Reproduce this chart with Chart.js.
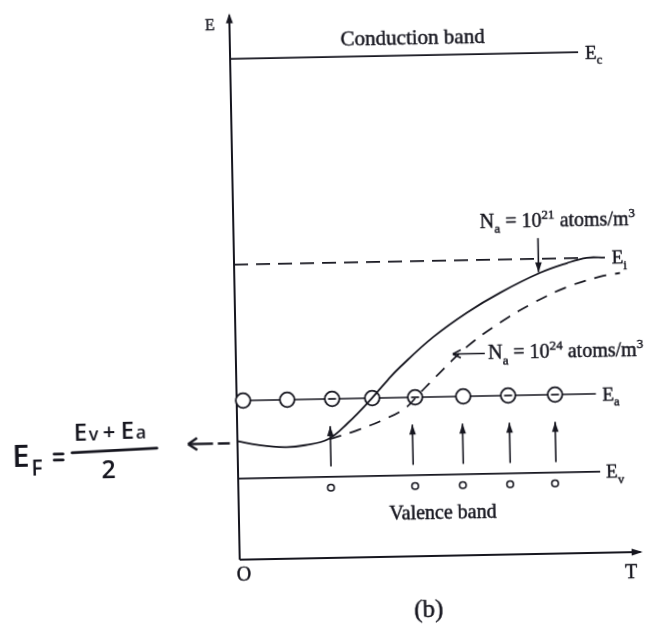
<!DOCTYPE html>
<html><head><meta charset="utf-8">
<script src="https://cdn.jsdelivr.net/npm/chart.js@4.4.0/dist/chart.umd.min.js"></script>
<style>
html,body{margin:0;padding:0;background:#fff;overflow:hidden;width:650px;height:626px;}
#wrap{width:650px;height:626px;transform:rotate(-1.1deg);transform-origin:325px 313px;}
canvas{display:block;}
</style></head><body>
<div id="wrap"><canvas id="c" width="650" height="626"></canvas></div>
<script>
// ---------- data (T: temperature, E: energy, arbitrary units) ----------
const axisT = [0, 10];
const axisE = [0, 10];

const levelSub   = ['c', 'i', 'a', 'v'];          // E_c, E_i, E_a, E_v
const levelE     = [9.20, 5.42, 2.92, 1.49];
const levelTEnd  = [8.68, 8.60, 8.96, 9.03];
const levelDash  = [false, true, false, false];
const levelLabelT = [8.85, 9.42, 9.12, 9.18];

// Fermi level, N_a = 10^21 atoms/m^3 (solid)
const curve21T = [0, 0.51, 1.18, 1.69, 2.26, 2.76, 3.35, 3.78, 4.09, 4.93, 5.79, 6.62, 7.62, 8.30, 8.80, 9.25];
const curve21E = [2.18, 2.10, 2.05, 2.08, 2.18, 2.47, 2.90, 3.25, 3.48, 4.02, 4.46, 4.81, 5.16, 5.33, 5.42, 5.42];

// Fermi level, N_a = 10^24 atoms/m^3 (dashed)
const curve24T = [2.30, 3.01, 3.62, 4.19, 4.55, 4.95, 5.77, 6.60, 7.44, 8.29, 9.12, 9.62];
const curve24E = [2.18, 2.34, 2.51, 2.72, 2.98, 3.27, 3.83, 4.26, 4.61, 4.89, 5.07, 5.13];

// acceptor atoms on E_a (true = ionized, shown with a minus sign)
const acceptorT = [0.16, 1.26, 2.38, 3.38, 4.45, 5.65, 6.77, 7.94];
const acceptorIonized = [false, false, true, false, true, false, true, true];

// holes left in the valence band
const holeT = [2.31, 4.41, 5.60, 6.78, 7.90];
const holeE = 1.29;

// electron transitions valence band -> acceptor level
const jumpT = [2.32, 4.37, 5.62, 6.79, 7.93];
const jumpFromE = 1.68;
const jumpToE = 2.42;

// E_F at T = 0
const efE = 2.14;

// ---------- styling ----------
const ink = '#16161f';
const serif = '"Liberation Serif", "Times New Roman", serif';
const hand = '"Open Sans", "DejaVu Sans", sans-serif';

function pts(T, E) { return T.map((t, i) => ({ x: t, y: Array.isArray(E) ? E[i] : E })); }

const datasets = [];
// axes
datasets.push({ data: [{x: axisT[0], y: axisE[0]}, {x: axisT[0], y: axisE[1]}], borderWidth: 2, order: 5 });
datasets.push({ data: [{x: axisT[0], y: axisE[0]}, {x: axisT[1], y: axisE[0]}], borderWidth: 2, order: 5 });
// energy levels
levelE.forEach((e, i) => {
  datasets.push({ data: [{x: axisT[0], y: e}, {x: levelTEnd[i], y: e}], borderWidth: 1.7,
    borderDash: levelDash[i] ? [14, 8] : [], order: 5 });
});
// curves
datasets.push({ data: pts(curve21T, curve21E), borderWidth: 1.8, tension: 0.4, order: 0 });
datasets.push({ data: pts(curve24T, curve24E), borderWidth: 1.7, tension: 0.4, borderDash: [12, 9], order: 0 });
// acceptors
const accAll = pts(acceptorT, levelE[2]);
datasets.push({ data: accAll, showLine: false, pointRadius: 7.3, pointStyle: 'circle',
  pointBackgroundColor: '#fff', pointBorderColor: ink, pointBorderWidth: 1.8, order: 2 });
datasets.push({ data: accAll.filter((p, i) => acceptorIonized[i]), showLine: false, pointRadius: 4,
  pointStyle: 'line', pointBorderColor: ink, pointBorderWidth: 1.7, order: 1 });
// holes
datasets.push({ data: pts(holeT, holeE), showLine: false, pointRadius: 3.3, pointStyle: 'circle',
  pointBackgroundColor: '#fff', pointBorderColor: ink, pointBorderWidth: 1.6, order: 2 });

datasets.forEach(d => {
  d.borderColor = d.borderColor || ink;
  if (d.pointRadius === undefined) d.pointRadius = 0;
  if (d.showLine === undefined) d.showLine = true;
  d.clip = false;
  d.fill = false;
});

// frame: T 0..10 spans px 235..636, E 0..10 spans px 558..13.5 (canvas 650x626)
const uT = 40.1, uE = 54.45;
const xMin = -235 / uT, xMax = (650 - 235) / uT;
const yMin = -(626 - 558) / uE, yMax = 558 / uE;

function head(ctx, x, y, ang, len, hw, open) {
  ctx.save();
  ctx.translate(x, y); ctx.rotate(ang);
  ctx.beginPath();
  ctx.moveTo(0, 0); ctx.lineTo(-len, -hw);
  if (open) { ctx.moveTo(0, 0); ctx.lineTo(-len, hw); ctx.stroke(); }
  else { ctx.lineTo(-len, hw); ctx.closePath(); ctx.fill(); }
  ctx.restore();
}
function arrow(ctx, x1, y1, x2, y2, len, hw, open) {
  ctx.beginPath(); ctx.moveTo(x1, y1); ctx.lineTo(x2, y2); ctx.stroke();
  head(ctx, x2, y2, Math.atan2(y2 - y1, x2 - x1), len, hw, open);
}
function rich(ctx, x, y, parts, size, align, family) {
  family = family || serif;
  const fs = k => k === 'n' ? size : size * 0.66;
  let w = 0;
  parts.forEach(([t, k]) => { ctx.font = fs(k) + 'px ' + family; w += ctx.measureText(t).width; });
  let cx = align === 'center' ? x - w / 2 : (align === 'right' ? x - w : x);
  ctx.textAlign = 'left'; ctx.textBaseline = 'alphabetic';
  ctx.lineWidth = 0.45; ctx.lineJoin = 'round';
  parts.forEach(([t, k]) => {
    ctx.font = fs(k) + 'px ' + family;
    const dy = k === 'sub' ? size * 0.28 : (k === 'sup' ? -size * 0.4 : 0);
    ctx.fillText(t, cx, y + dy);
    ctx.strokeText(t, cx, y + dy);
    cx += ctx.measureText(t).width;
  });
}

const decor = {
  id: 'decor',
  afterDatasetsDraw(chart) {
    const ctx = chart.ctx, X = chart.scales.x, Y = chart.scales.y;
    const px = t => X.getPixelForValue(t), py = e => Y.getPixelForValue(e);
    ctx.save();
    ctx.strokeStyle = ink; ctx.fillStyle = ink; ctx.lineWidth = 1.6;
    // axis arrow heads
    head(ctx, px(axisT[0]), py(axisE[1]) - 2, -Math.PI / 2, 10, 3.5, false);
    head(ctx, px(axisT[1]) + 2, py(axisE[0]), 0, 11, 3.5, false);
    // transitions
    ctx.lineWidth = 1.6;
    jumpT.forEach(t => arrow(ctx, px(t), py(jumpFromE), px(t), py(jumpToE), 10, 3.3, false));
    // N_a = 10^21 pointer
    arrow(ctx, px(7.59), py(5.80), px(7.59), py(5.17), 10, 3.3, false);
    // N_a = 10^24 pointer
    arrow(ctx, px(6.21), py(3.70), px(5.41), py(3.70), 8, 4, true);
    // E_F pointer on the left
    ctx.lineWidth = 2.4;
    arrow(ctx, px(-0.61), py(efE), px(-1.23), py(efE), 9, 6, true);
    ctx.beginPath(); ctx.moveTo(px(-0.49), py(efE)); ctx.lineTo(px(-0.19), py(efE)); ctx.stroke();

    // texts
    rich(ctx, px(-0.61), py(9.74), [['E', 'n']], 16, 'left');
    rich(ctx, px(4.56), py(9.41), [['Conduction band', 'n']], 21, 'center');
    rich(ctx, px(5.09), py(0.68), [['Valence band', 'n']], 20, 'center');
    levelE.forEach((e, i) => {
      rich(ctx, px(levelLabelT[i]), py(e) + 6.5, [['E', 'n'], [levelSub[i], 'sub']], 19, 'left');
    });
    rich(ctx, px(6.15), py(6.01), [['N', 'n'], ['a', 'sub'], [' = 10', 'n'], ['21', 'sup'], [' atoms/m', 'n'], ['3', 'sup']], 20, 'left');
    rich(ctx, px(6.29), py(3.60), [['N', 'n'], ['a', 'sub'], [' = 10', 'n'], ['24', 'sup'], [' atoms/m', 'n'], ['3', 'sup']], 20, 'left');
    rich(ctx, px(0.10), py(-0.38), [['O', 'n']], 20, 'center');
    rich(ctx, px(9.60), py(-0.47), [['T', 'n']], 20, 'left');
    rich(ctx, px(4.69), py(-1.12), [['(b)', 'n']], 25, 'center');

    // handwritten E_F = (E_v + E_a) / 2
    const bx = px(-4.13), by = py(2.04);
    ctx.lineWidth = 2.6; ctx.lineCap = 'round';
    ctx.beginPath(); ctx.moveTo(bx, by + 1); ctx.lineTo(bx + 85, by - 2); ctx.stroke();
    ctx.beginPath(); ctx.moveTo(bx - 18, by + 2); ctx.lineTo(bx - 9, by + 2);
    ctx.moveTo(bx - 18, by + 8); ctx.lineTo(bx - 9, by + 8); ctx.stroke();
    const hf = (s) => '600 ' + s + 'px ' + hand;
    ctx.font = hf(31); ctx.fillText('E', bx - 60, by + 14);
    ctx.font = hf(21); ctx.fillText('F', bx - 41, by + 23);
    ctx.font = hf(24); ctx.fillText('E', bx + 2, by - 11);
    ctx.font = hf(18); ctx.fillText('v', bx + 17, by - 11);
    ctx.font = hf(22); ctx.fillText('+', bx + 31, by - 12);
    ctx.font = hf(24); ctx.fillText('E', bx + 49, by - 12);
    ctx.font = hf(18); ctx.fillText('a', bx + 64, by - 12);
    ctx.font = hf(25); ctx.fillText('2', bx + 29, by + 27);
    ctx.restore();
  }
};

new Chart(document.getElementById('c'), {
  type: 'scatter',
  data: { datasets },
  options: {
    responsive: false, animation: false, devicePixelRatio: 1,
    layout: { padding: 0, autoPadding: false },
    plugins: { legend: { display: false }, tooltip: { enabled: false } },
    scales: {
      x: { type: 'linear', display: false, min: xMin, max: xMax },
      y: { type: 'linear', display: false, min: yMin, max: yMax }
    }
  },
  plugins: [decor]
});
</script>
</body></html>
